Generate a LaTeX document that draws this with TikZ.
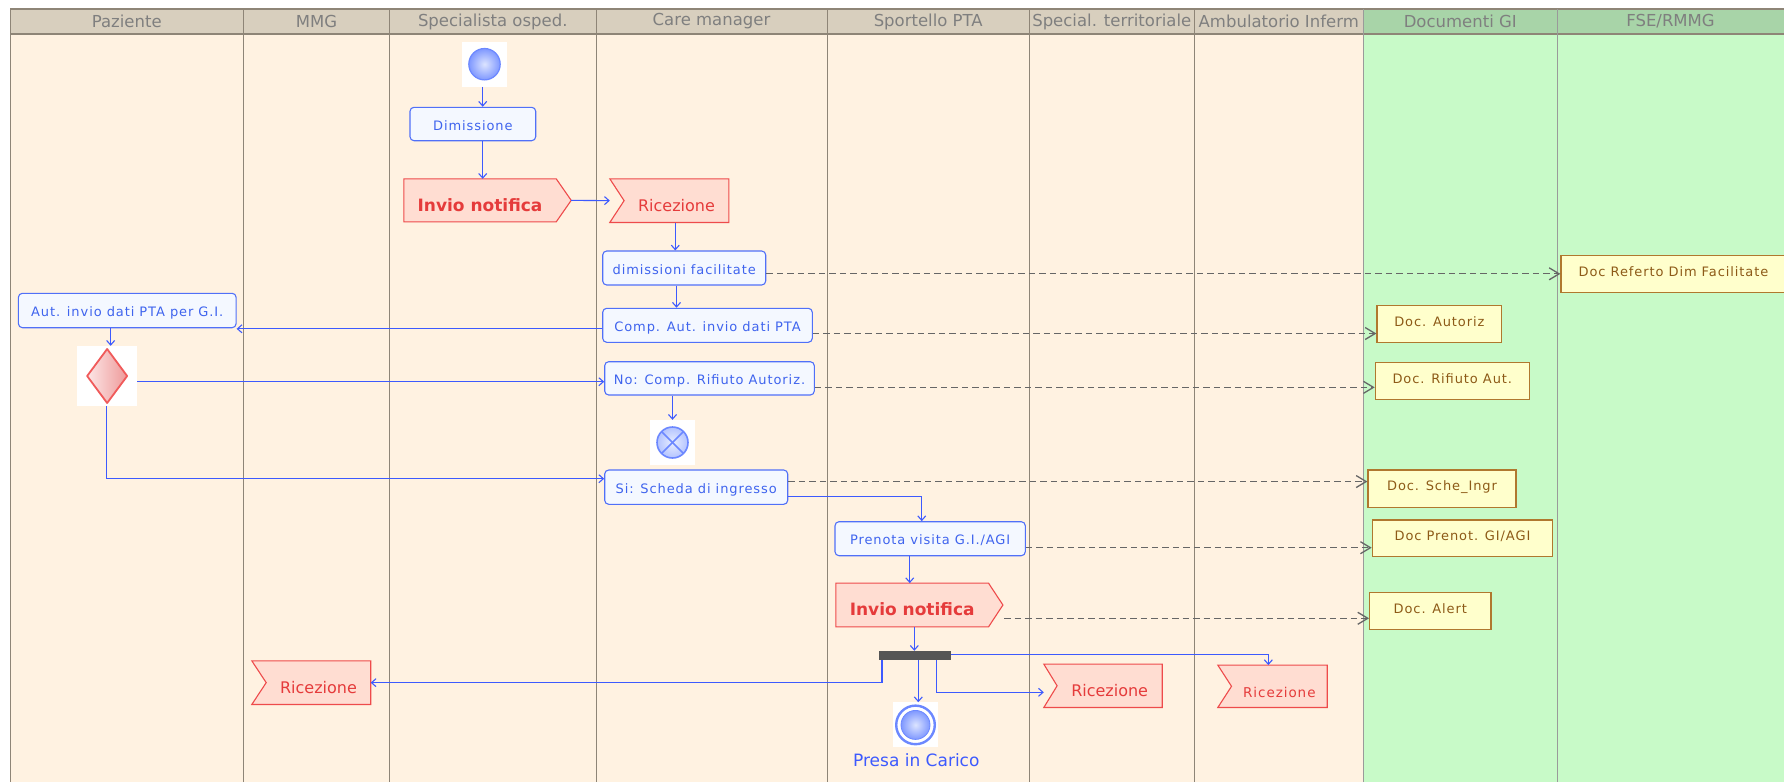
\documentclass[tikz,border=0pt]{standalone}
\usepackage{fontspec}
\setmainfont{DejaVu Sans}
\newfontfamily\spacedfont[LetterSpace=7]{DejaVu Sans}
\usetikzlibrary{arrows.meta,calc}
\pgfdeclarelayer{lanes}
\pgfdeclarelayer{shapes}
\pgfsetlayers{lanes,shapes,main}
\definecolor{laneCream}{HTML}{FFF2E1}
\definecolor{laneGreen}{HTML}{C8FAC8}
\definecolor{hdrTan}{HTML}{D8CFBE}
\definecolor{hdrGreen}{HTML}{A8D4A8}
\definecolor{hdrText}{HTML}{7F7F7F}
\definecolor{laneLine}{HTML}{8E8577}
\definecolor{greenLine}{HTML}{9A9A9A}
\definecolor{flowBlue}{HTML}{3D5AFE}
\definecolor{boxBorder}{HTML}{5070F8}
\definecolor{boxFill}{HTML}{F4F8FF}
\definecolor{boxText}{HTML}{3F64EE}
\definecolor{sigFill}{HTML}{FFDDD2}
\definecolor{sigBorder}{HTML}{EE4B4B}
\definecolor{sigText}{HTML}{E53B3B}
\definecolor{docFill}{HTML}{FFFFCC}
\definecolor{docBorder}{HTML}{B0782E}
\definecolor{docText}{HTML}{8D5A17}
\definecolor{depGray}{HTML}{666666}
\definecolor{forkGray}{HTML}{555555}
\definecolor{ballIn}{HTML}{DCE4FF}
\definecolor{ballOut}{HTML}{7F98FF}
\definecolor{ballLine}{HTML}{6C88FF}
\definecolor{ffIn}{HTML}{E8EEFF}
\definecolor{ffOut}{HTML}{B3C3FF}
\definecolor{diaL}{HTML}{FCE6E6}
\definecolor{diaR}{HTML}{EE9A9A}
\definecolor{diaBorder}{HTML}{F05A5A}
\begin{document}
\begin{tikzpicture}[x=1pt,y=-1pt,
  flow/.style={draw=flowBlue, line width=1.1pt, -{Straight Barb[length=4.5pt,width=8pt]}},
  dep/.style={draw=depGray, line width=1.3pt, dash pattern=on 6.5pt off 4pt, -{Straight Barb[length=10pt,width=12pt]}},
  actbox/.style={draw=boxBorder, fill=boxFill, line width=1.1pt, rounded corners=4pt, text=boxText, font=\spacedfont\fontsize{13}{15}\selectfont, inner sep=0pt, text height=12pt, text depth=0pt},
  docbox/.style={draw=docBorder, fill=docFill, line width=1.2pt, text=docText, font=\spacedfont\fontsize{13}{15}\selectfont, inner sep=0pt, text height=7pt, text depth=2.5pt},
  hdr/.style={text=hdrText, font=\fontsize{16.5}{18}\selectfont, inner sep=0pt},
  sendtxt/.style={text=sigText, font=\bfseries\fontsize{17}{19}\selectfont, inner sep=0pt, text height=21.5pt, text depth=0pt},
  recvtxt/.style={text=sigText, font=\fontsize{16}{18}\selectfont, inner sep=0pt, text height=21pt, text depth=0pt},
  sigshape/.style={fill=sigFill, draw=sigBorder, line width=1.1pt},
  holder/.style={fill=white, draw=none, inner sep=0pt, minimum size=45pt},
  lanerule/.style={draw=laneLine, line width=1pt}
]
\useasboundingbox (0,0) rectangle (1784,782);
\clip (0,0) rectangle (1784,782);

% ---------- lanes ----------
\begin{pgfonlayer}{lanes}
\fill[laneCream] (10,34) rectangle (1363.5,782);
\fill[laneGreen] (1363.5,34) rectangle (1784,782);
\fill[hdrTan] (10,9) rectangle (1363.5,34);
\fill[hdrGreen] (1363.5,9) rectangle (1784,34);
\draw[lanerule, line width=1.4pt] (10,9) -- (1784,9);
\draw[lanerule, line width=1.2pt] (10,34) -- (1784,34);
\foreach \xx in {10,243.5,389.5,596,827,1029.5,1194}
  \draw[lanerule] (\xx,9) -- (\xx,782);
\foreach \xx in {1363.5,1557}
  \draw[draw=greenLine, line width=1pt] (\xx,9) -- (\xx,782);
\end{pgfonlayer}

\node[hdr] (hPaz) at (126.75,21.5) {Paziente};
\node[hdr] (hMmg) at (316.5,21.5) {MMG};
\node[hdr] (hSpe) at (492.75,21.5) {Specialista osped.};
\node[hdr] (hCar) at (711.5,21.5) {Care manager};
\node[hdr] (hSpo) at (928.25,21.5) {Sportello PTA};
\node[hdr] (hTer) at (1111.75,21.5) {Special. territoriale};
\node[hdr] (hAmb) at (1278.75,21.5) {Ambulatorio Inferm};
\node[hdr] (hDoc) at (1460.25,21.5) {Documenti GI};
\node[hdr] (hFse) at (1670.5,21.5) {FSE/RMMG};

% ---------- special nodes ----------
\node[holder] (start) at (484.5,64.2) {};
\shade[inner color=ballIn, outer color=ballOut] (start.center) circle[radius=15.7pt];
\draw[ballLine, line width=1.2pt] (start.center) circle[radius=15.7pt];

\node[holder] (ff) at (672.5,442.5) {};
\shade[inner color=ffIn, outer color=ffOut] (ff.center) circle[radius=15.5pt];
\draw[ballLine, line width=1.6pt] (ff.center) circle[radius=15.5pt];
\draw[ballLine, line width=1.6pt] ($(ff.center)+(-11,-11)$) -- ($(ff.center)+(11,11)$);
\draw[ballLine, line width=1.6pt] ($(ff.center)+(-11,11)$) -- ($(ff.center)+(11,-11)$);

\node[holder] (fin) at (915.5,724.9) {};
\draw[ballLine, line width=2.4pt] (fin.center) circle[radius=19.3pt];
\shade[inner color=ballIn, outer color=ballOut] (fin.center) circle[radius=14.5pt];
\draw[ballLine, line width=0.8pt] (fin.center) circle[radius=14.5pt];
\node[text=flowBlue, font=\fontsize{17}{19}\selectfont, inner sep=0pt] (lblFin) at (916.3,760.3) {Presa in Carico};

\node[holder, minimum width=59.7pt, minimum height=60pt] (dia) at (107.15,376) {};
\shadedraw[left color=diaL, right color=diaR, draw=diaBorder, line width=1.8pt, line join=round]
  ($(dia.center)+(0,-27)$) -- ($(dia.center)+(20,0)$) -- ($(dia.center)+(0,27)$) -- ($(dia.center)+(-20,0)$) -- cycle;

\node[fill=forkGray, inner sep=0pt, minimum width=72pt, minimum height=9pt] (fork) at (915,655.5) {};

% ---------- actions ----------
\node[actbox, minimum width=125.7pt, minimum height=33.4pt] (dim) at (472.85,124) {Dimissione};
\node[actbox, minimum width=163pt, minimum height=34pt] (dimfac) at (684.2,268) {dimissioni facilitate};
\node[actbox, minimum width=209.6pt, minimum height=34pt] (comp) at (707.5,325.3) {Comp. Aut. invio dati PTA};
\node[actbox, minimum width=209.6pt, minimum height=33.3pt] (no) at (709.5,378.35) {No: Comp. Rifiuto Autoriz.};
\node[actbox, minimum width=183pt, minimum height=34.3pt] (si) at (696.2,487.15) {Si: Scheda di ingresso};
\node[actbox, minimum width=190.3pt, minimum height=34pt] (pren) at (930.15,538.7) {Prenota visita G.I./AGI};
\node[actbox, minimum width=217.7pt, minimum height=34.4pt] (aut) at (127.25,310.5) {Aut. invio dati PTA per G.I.};

% ---------- documents ----------
\node[docbox, minimum width=225pt, minimum height=37pt] (docref) at (1673.5,273.8) {Doc Referto Dim Facilitate\hspace*{0pt}};
\node[docbox, minimum width=124.7pt, minimum height=37pt] (autoriz) at (1439.35,323.8) {Doc. Autoriz};
\node[docbox, minimum width=154pt, minimum height=37pt] (rifiuto) at (1452.3,381.2) {Doc. Rifiuto Aut.};
\node[docbox, minimum width=148pt, minimum height=37.3pt] (sche) at (1442,488.65) {Doc. Sche\_Ingr};
\node[docbox, minimum width=180.4pt, minimum height=36.7pt] (prenot) at (1462.5,538.35) {Doc Prenot. GI/AGI};
\node[docbox, minimum width=121.4pt, minimum height=37pt] (alert) at (1430.3,610.8) {Doc. Alert};

% ---------- signals ----------
\node[sendtxt, minimum width=152pt, minimum height=42.7pt] (inv1) at (480,200.35) {Invio notifica};
\node[sendtxt, minimum width=152.3pt, minimum height=43.4pt] (inv2) at (912.15,605) {Invio notifica};
\node[recvtxt, minimum width=104.4pt, minimum height=43.3pt] (rc) at (676.5,200.65) {Ricezione};
\node[recvtxt, minimum width=104.1pt, minimum height=43.3pt] (mmgrc) at (318.45,682.65) {Ricezione};
\node[recvtxt, minimum width=104.7pt, minimum height=43pt] (specrc) at (1109.65,685.8) {Ricezione};
\node[recvtxt, font=\spacedfont\fontsize{13.5}{15}\selectfont, text height=21.5pt, minimum width=95.3pt, minimum height=42pt] (ambrc) at (1279.35,686.3) {Ricezione};

\begin{pgfonlayer}{shapes}
\draw[sigshape] (inv1.north west) -- (inv1.north east) -- ([xshift=15pt]inv1.east) -- (inv1.south east) -- (inv1.south west) -- cycle;
\draw[sigshape] (inv2.north west) -- (inv2.north east) -- ([xshift=14.4pt]inv2.east) -- (inv2.south east) -- (inv2.south west) -- cycle;
\draw[sigshape] ([xshift=-14.3pt]rc.north west) -- (rc.north east) -- (rc.south east) -- ([xshift=-14.3pt]rc.south west) -- (rc.west) -- cycle;
\draw[sigshape] ([xshift=-14.4pt]mmgrc.north west) -- (mmgrc.north east) -- (mmgrc.south east) -- ([xshift=-14.4pt]mmgrc.south west) -- (mmgrc.west) -- cycle;
\draw[sigshape] ([xshift=-13.3pt]specrc.north west) -- (specrc.north east) -- (specrc.south east) -- ([xshift=-13.3pt]specrc.south west) -- (specrc.west) -- cycle;
\draw[sigshape] ([xshift=-13.7pt]ambrc.north west) -- (ambrc.north east) -- (ambrc.south east) -- ([xshift=-13.7pt]ambrc.south west) -- (ambrc.west) -- cycle;
\end{pgfonlayer}

% ---------- helper coordinates ----------
\coordinate (c1) at ([yshift=-3.5pt]comp.west);
\coordinate (c2) at ([yshift=-5.7pt]dia.east);
\coordinate (c3) at ([yshift=-9.5pt]si.east);
\coordinate (c4) at ([xshift=-8.4pt]pren.north);
\coordinate (c5) at ([xshift=-33pt]fork.south);
\coordinate (c6) at ([xshift=21.3pt]fork.south);
\coordinate (c7) at ([xshift=-13.3pt,yshift=-6.5pt]specrc.west);
\coordinate (c8) at ([xshift=-11pt]ambrc.north);
\coordinate (c9) at ([xshift=3.5pt]dia.north);
\coordinate (d2) at ([yshift=-8.2pt]comp.east);
\coordinate (d3) at ([yshift=-9pt]no.east);
\coordinate (d4) at ([yshift=5.6pt]si.east);
\coordinate (d5) at ([yshift=-9pt]pren.east);
\coordinate (d6) at ([xshift=15.7pt,yshift=-13.3pt]inv2.east);

% ---------- control flow ----------
\draw[flow] ([xshift=-1.8pt]start.south) -- ([xshift=-1.8pt]start.south |- dim.north);
\draw[flow] ([xshift=-1.8pt]start.south |- dim.south) -- ([xshift=-1.8pt]start.south |- inv1.north);
\draw[flow] ([xshift=15pt]inv1.east) -- ([xshift=-14.3pt]rc.west);
\draw[flow] ([xshift=-1.2pt]rc.south) -- ([xshift=-1.2pt]rc.south |- dimfac.north);
\draw[flow] (rc.south |- dimfac.south) -- (rc.south |- comp.north);
\draw[flow] (c1) -- (c1 -| aut.east);
\draw[flow] (aut.south -| c9) -- (c9);
\draw[flow] (c2) -- (c2 -| no.west);
\draw[flow] (no.south -| ff.north) -- (ff.north);
\draw[flow] ([xshift=-0.5pt]dia.south) |- ([yshift=8.45pt]si.west);
\draw[flow] (c3) -| (c4);
\draw[flow] ([xshift=-2.4pt]inv2.north |- pren.south) -- ([xshift=-2.4pt]inv2.north);
\draw[flow] ([xshift=-0.7pt]fork.north |- inv2.south) -- ([xshift=-0.7pt]fork.north);
\draw[flow] (c5) |- (mmgrc.east);
\draw[flow] ([xshift=2.8pt]fin.north |- fork.south) -- ([xshift=2.8pt]fin.north);
\draw[flow] (c6) |- (c7);
\draw[flow] ([yshift=1pt]fork.east) -| (c8);

% ---------- object flow ----------
\draw[dep] (dimfac.east |- docref.west) -- (docref.west);
\draw[dep] (d2) -- (d2 -| autoriz.west);
\draw[dep] (d3) -- (d3 -| rifiuto.west);
\draw[dep] (d4) -- (d4 -| sche.west);
\draw[dep] (d5) -- (d5 -| prenot.west);
\draw[dep] (d6) -- (d6 -| alert.west);
\end{tikzpicture}
\end{document}
